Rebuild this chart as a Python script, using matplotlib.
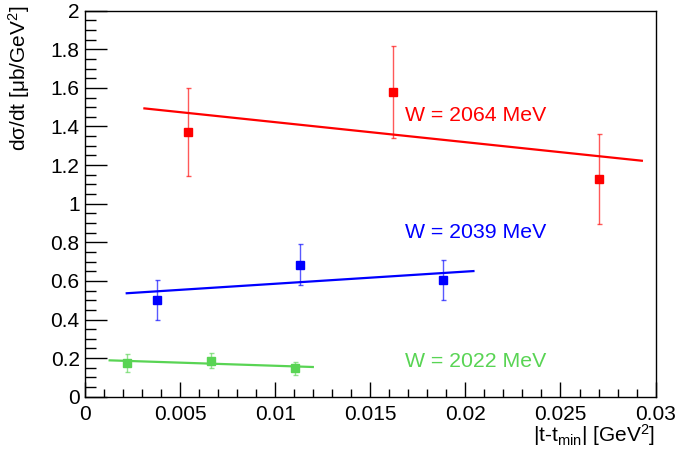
import numpy as np
import matplotlib
matplotlib.use("Agg")
import matplotlib.pyplot as plt
from matplotlib.ticker import MultipleLocator, FuncFormatter

plt.rcParams['font.family'] = ['Liberation Sans', 'DejaVu Sans']
plt.rcParams['mathtext.fontset'] = 'custom'
plt.rcParams['mathtext.rm'] = 'Liberation Sans'
plt.rcParams['mathtext.default'] = 'regular'

# measured points, one set per W bin
red_x = [0.00541, 0.01618, 0.02702]
red_y = [1.373, 1.580, 1.128]
red_err = [0.229, 0.237, 0.232]

blue_x = [0.00376, 0.01128, 0.01883]
blue_y = [0.500, 0.684, 0.603]
blue_err = [0.103, 0.106, 0.104]

green_x = [0.00219, 0.0066, 0.01105]
green_y = [0.173, 0.187, 0.147]
green_err = [0.046, 0.040, 0.035]

# linear fits: intercept, slope, x range
red_fit = [1.526, -10.36]
red_range = [0.00311, 0.02928]
blue_fit = [0.5223, 6.3]
blue_range = [0.00218, 0.02042]
green_fit = [0.1926, -3.23]
green_range = [0.00128, 0.01197]

labels = ["W = 2064 MeV", "W = 2039 MeV", "W = 2022 MeV"]
label_pos = [(0.01683, 1.430), (0.01683, 0.821), (0.01683, 0.155)]

RED = "#ff0000"
BLUE = "#0000ff"
GREEN = "#59d454"

fig = plt.figure(figsize=(6.77, 4.55), dpi=100)
ax = fig.add_axes([0.126, 0.1281, 0.8423, 0.8484])

sets = [
    (red_x, red_y, red_err, red_fit, red_range, RED),
    (blue_x, blue_y, blue_err, blue_fit, blue_range, BLUE),
    (green_x, green_y, green_err, green_fit, green_range, GREEN),
]
for (xs, ys, es, fit, rng, col), lab, pos in zip(sets, labels, label_pos):
    xf = np.array(rng)
    ax.plot(xf, fit[0] + fit[1] * xf, color=col, lw=1.6, zorder=2)
    ax.errorbar(xs, ys, yerr=es, fmt="none", ecolor=col, elinewidth=1.0,
                capsize=1.8, capthick=1.0, alpha=0.65, zorder=3)
    ax.plot(xs, ys, "s", color=col, ms=5.5, mec=col, zorder=4)
    ax.text(pos[0], pos[1], lab, color=col, fontsize=15.3, ha="left", va="baseline")

ax.set_xlim(0, 0.03)
ax.set_ylim(0, 2)
ax.xaxis.set_major_locator(MultipleLocator(0.005))
ax.xaxis.set_minor_locator(MultipleLocator(0.001))
ax.yaxis.set_major_locator(MultipleLocator(0.2))
ax.yaxis.set_minor_locator(MultipleLocator(0.05))
fmt = FuncFormatter(lambda v, p: "%g" % round(v, 6))
ax.xaxis.set_major_formatter(fmt)
ax.yaxis.set_major_formatter(fmt)

ax.tick_params(axis="both", which="both", direction="in", top=False, right=False,
               labelsize=15, width=1)
ax.tick_params(axis="x", which="major", length=11, pad=6)
ax.tick_params(axis="x", which="minor", length=5.5)
ax.tick_params(axis="y", which="major", length=16, pad=4)
ax.tick_params(axis="y", which="minor", length=8)
for s in ax.spines.values():
    s.set_linewidth(1)

ax.set_xlabel(r"|t-t$_{min}$| [GeV$^{2}$]", fontsize=15, loc="right")
ax.xaxis.set_label_coords(1.0, -0.066)
ax.xaxis.label.set_va("top")
ax.set_ylabel(r"d$\sigma$/dt [$\mu$b/GeV$^{2}$]", fontsize=15, loc="top")
ax.yaxis.set_label_coords(-0.116, 1.015)
ax.yaxis.label.set_va("center")

fig.savefig("out.png", dpi=100)
